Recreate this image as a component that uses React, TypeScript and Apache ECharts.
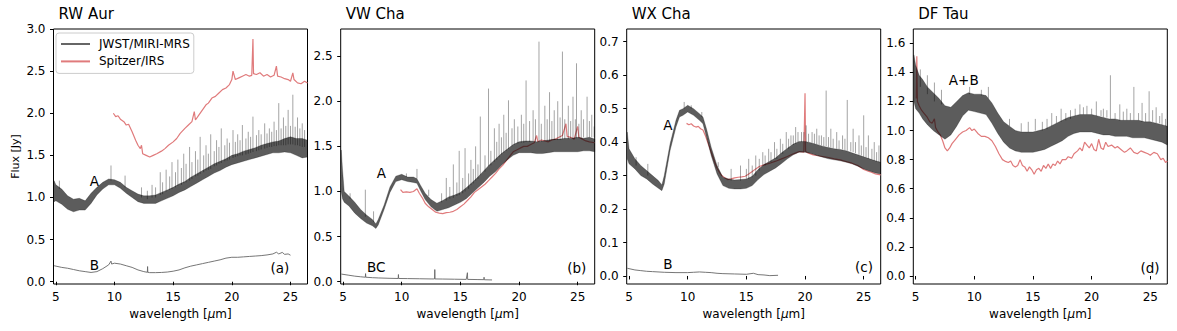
import React, { useEffect, useRef } from "react";
import * as echarts from "echarts";

// ---------------- DATA ----------------
const PANEL_TITLES = ["RW Aur", "VW Cha", "WX Cha", "DF Tau"];
const X_TICKS = [5, 10, 15, 20, 25];
const Y_TICKS = [
  [0, 0.5, 1.0, 1.5, 2.0, 2.5, 3.0],
  [0, 0.5, 1.0, 1.5, 2.0, 2.5],
  [0, 0.1, 0.2, 0.3, 0.4, 0.5, 0.6, 0.7],
  [0, 0.2, 0.4, 0.6, 0.8, 1.0, 1.2, 1.4, 1.6],
];
const Y_RANGES = [
  [-0.027, 3.0],
  [-0.025, 2.8],
  [-0.024, 0.738],
  [-0.055, 1.698],
];
const X_RANGE = [4.8, 26.45];

// JWST/MIRI-MRS main component: [wavelength, lower envelope, upper envelope]
const rwAurBand = [
  [4.85, 0.95, 1.2], [5.0, 0.96, 1.15], [5.5, 0.92, 1.1], [6.0, 0.86, 1.02], [6.5, 0.83, 0.98],
  [7.0, 0.85, 0.99], [7.5, 0.85, 0.96], [8.0, 0.93, 1.05], [8.5, 1.03, 1.12], [9.0, 1.1, 1.18],
  [9.5, 1.15, 1.22], [10.0, 1.15, 1.21], [10.5, 1.11, 1.18], [11.0, 1.05, 1.12], [11.5, 1.0, 1.08],
  [12.0, 0.95, 1.04], [12.5, 0.93, 1.02], [13.0, 0.93, 1.02], [13.5, 0.93, 1.03], [14.0, 0.96, 1.06],
  [14.5, 0.99, 1.09], [15.0, 1.02, 1.12], [15.5, 1.06, 1.16], [16.0, 1.09, 1.19], [16.5, 1.13, 1.24],
  [17.0, 1.17, 1.28], [17.5, 1.21, 1.32], [18.0, 1.25, 1.36], [18.5, 1.29, 1.4], [19.0, 1.32, 1.43],
  [19.5, 1.36, 1.46], [20.0, 1.39, 1.5], [20.5, 1.41, 1.52], [21.0, 1.43, 1.55], [21.5, 1.45, 1.57],
  [22.0, 1.47, 1.59], [22.5, 1.49, 1.62], [23.0, 1.51, 1.64], [23.5, 1.53, 1.66], [24.0, 1.53, 1.67],
  [24.5, 1.54, 1.7], [25.0, 1.53, 1.72], [25.5, 1.5, 1.7], [26.0, 1.47, 1.7], [26.45, 1.48, 1.68],
];
const vwChaBand = [
  [4.85, 1.0, 1.46], [4.95, 0.92, 1.25], [5.1, 0.88, 1.0], [5.5, 0.84, 0.95], [6.0, 0.76, 0.88],
  [6.5, 0.7, 0.8], [7.0, 0.65, 0.74], [7.5, 0.62, 0.69], [7.8, 0.59, 0.64], [8.0, 0.63, 0.69],
  [8.5, 0.8, 0.85], [9.0, 0.99, 1.05], [9.5, 1.11, 1.17], [10.0, 1.13, 1.19], [10.5, 1.11, 1.16],
  [11.0, 1.1, 1.16], [11.3, 1.09, 1.14], [11.6, 1.01, 1.07], [12.0, 0.91, 0.98], [12.5, 0.83, 0.91],
  [13.0, 0.78, 0.87], [13.5, 0.8, 0.9], [14.0, 0.82, 0.94], [14.5, 0.85, 0.96], [15.0, 0.88, 0.99],
  [15.5, 0.92, 1.04], [16.0, 0.98, 1.1], [16.5, 1.04, 1.16], [17.0, 1.1, 1.23], [17.5, 1.17, 1.3],
  [18.0, 1.22, 1.36], [18.5, 1.29, 1.42], [19.0, 1.35, 1.47], [19.5, 1.4, 1.52], [20.0, 1.43, 1.55],
  [20.5, 1.43, 1.56], [21.0, 1.43, 1.56], [21.5, 1.42, 1.55], [22.0, 1.42, 1.56], [22.5, 1.43, 1.57],
  [23.0, 1.44, 1.58], [23.5, 1.44, 1.58], [24.0, 1.44, 1.59], [24.5, 1.44, 1.59], [25.0, 1.44, 1.6],
  [25.5, 1.45, 1.59], [26.0, 1.45, 1.6], [26.45, 1.44, 1.58],
];
const wxChaBand = [
  [4.85, 0.35, 0.43], [5.0, 0.335, 0.38], [5.5, 0.32, 0.35], [6.0, 0.3, 0.33], [6.5, 0.29, 0.315],
  [7.0, 0.275, 0.3], [7.5, 0.262, 0.285], [7.8, 0.255, 0.272], [8.0, 0.275, 0.3], [8.5, 0.375, 0.395],
  [9.0, 0.445, 0.465], [9.3, 0.475, 0.495], [9.6, 0.48, 0.5], [10.0, 0.49, 0.51], [10.5, 0.48, 0.5],
  [11.0, 0.465, 0.485], [11.3, 0.455, 0.475], [11.6, 0.415, 0.44], [12.0, 0.36, 0.385], [12.5, 0.305, 0.33],
  [13.0, 0.27, 0.295], [13.5, 0.262, 0.29], [14.0, 0.26, 0.287], [14.5, 0.26, 0.288], [15.0, 0.262, 0.29],
  [15.5, 0.27, 0.298], [16.0, 0.288, 0.318], [16.5, 0.303, 0.333], [17.0, 0.313, 0.343], [17.5, 0.323, 0.353],
  [18.0, 0.336, 0.368], [18.5, 0.35, 0.382], [19.0, 0.362, 0.394], [19.5, 0.37, 0.402], [20.0, 0.37, 0.402],
  [20.5, 0.366, 0.398], [21.0, 0.36, 0.393], [21.5, 0.355, 0.388], [22.0, 0.35, 0.384], [22.5, 0.347, 0.38],
  [23.0, 0.344, 0.378], [23.5, 0.34, 0.374], [24.0, 0.335, 0.368], [24.5, 0.328, 0.362], [25.0, 0.32, 0.356],
  [25.5, 0.314, 0.35], [26.0, 0.308, 0.344], [26.45, 0.305, 0.34],
];
const dfTauBand = [
  [4.85, 1.2, 1.52], [5.0, 1.15, 1.45], [5.3, 1.12, 1.38], [5.6, 1.08, 1.35], [6.0, 1.04, 1.3],
  [6.5, 1.0, 1.26], [7.0, 0.97, 1.22], [7.5, 0.94, 1.17], [8.0, 0.97, 1.16], [8.5, 1.03, 1.2],
  [9.0, 1.1, 1.24], [9.5, 1.14, 1.26], [10.0, 1.13, 1.25], [10.5, 1.12, 1.25], [11.0, 1.11, 1.24],
  [11.5, 1.05, 1.19], [12.0, 0.98, 1.12], [12.5, 0.92, 1.06], [13.0, 0.88, 1.03], [13.5, 0.86, 1.0],
  [14.0, 0.85, 0.99], [14.5, 0.85, 0.99], [15.0, 0.85, 0.99], [15.5, 0.86, 1.0], [16.0, 0.87, 1.01],
  [16.5, 0.89, 1.03], [17.0, 0.91, 1.05], [17.5, 0.93, 1.07], [18.0, 0.96, 1.09], [18.5, 0.98, 1.1],
  [19.0, 0.99, 1.11], [19.5, 0.99, 1.11], [20.0, 0.99, 1.11], [20.5, 0.98, 1.1], [21.0, 0.97, 1.09],
  [21.5, 0.97, 1.08], [22.0, 0.96, 1.08], [22.5, 0.96, 1.07], [23.0, 0.96, 1.07], [23.5, 0.95, 1.07],
  [24.0, 0.95, 1.07], [24.5, 0.95, 1.06], [25.0, 0.94, 1.06], [25.5, 0.93, 1.05], [26.0, 0.92, 1.04],
  [26.45, 0.9, 1.03],
];

// JWST emission-line spikes: [wavelength, base, peak]
const rwAurLines = [
  [5.3, 1.1, 1.2], [9.7, 1.2, 1.38], [10.9, 1.12, 1.26], [12.3, 1.0, 1.12], [13.2, 1.0, 1.15],
  [13.9, 1.03, 1.3], [14.4, 1.07, 1.33], [14.9, 1.1, 1.42], [15.4, 1.14, 1.45], [15.9, 1.17, 1.52],
  [16.4, 1.2, 1.6], [16.9, 1.25, 1.55], [17.3, 1.28, 1.72], [17.8, 1.32, 1.62], [18.2, 1.34, 1.75],
  [18.7, 1.38, 1.68], [19.1, 1.41, 1.82], [19.6, 1.44, 1.7], [20.1, 1.47, 1.8], [20.5, 1.49, 1.75],
  [20.9, 1.5, 1.86], [21.4, 1.52, 1.78], [21.8, 1.54, 1.96], [22.3, 1.56, 1.8], [22.8, 1.58, 1.88],
  [23.2, 1.6, 1.82], [23.6, 1.61, 1.9], [24.0, 1.62, 2.12], [24.4, 1.62, 1.95], [24.8, 1.63, 2.04],
  [25.2, 1.63, 2.22], [25.6, 1.62, 1.95], [26.0, 1.6, 1.88],
  [12.8, 0.98, 1.08], [13.5, 1.0, 1.12], [14.1, 1.04, 1.18], [14.7, 1.09, 1.25], [15.2, 1.12, 1.3],
  [15.7, 1.15, 1.35], [16.1, 1.18, 1.4], [16.6, 1.22, 1.42], [17.1, 1.26, 1.45], [17.6, 1.3, 1.5],
  [18.0, 1.33, 1.52], [18.5, 1.37, 1.55], [18.9, 1.4, 1.6], [19.4, 1.43, 1.62], [19.8, 1.45, 1.65],
  [20.3, 1.48, 1.66], [20.7, 1.5, 1.68], [21.2, 1.51, 1.7], [21.6, 1.53, 1.72], [22.1, 1.55, 1.74],
  [22.5, 1.57, 1.75], [23.0, 1.59, 1.76], [23.4, 1.6, 1.78], [23.8, 1.61, 1.8], [24.2, 1.62, 1.82],
  [24.6, 1.62, 1.85], [25.0, 1.63, 1.85], [25.4, 1.62, 1.84], [25.8, 1.61, 1.82], [26.2, 1.6, 1.8],
];
const vwChaLines = [
  [5.6, 0.92, 0.98], [6.9, 0.72, 1.02], [7.6, 0.66, 0.78], [10.4, 1.16, 1.2], [11.3, 1.14, 1.25],
  [12.3, 0.95, 1.02], [13.8, 0.9, 1.15], [14.4, 0.93, 1.3], [14.9, 0.96, 1.45], [15.4, 1.0, 1.48],
  [15.9, 1.07, 1.35], [16.3, 1.12, 1.5], [16.7, 1.18, 1.83], [17.4, 1.28, 2.14], [17.9, 1.33, 1.7],
  [18.3, 1.38, 1.75], [18.7, 1.43, 1.85], [19.1, 1.47, 2.01], [19.6, 1.52, 1.8], [20.2, 1.54, 1.85],
  [20.6, 1.55, 2.23], [21.2, 1.55, 1.9], [21.7, 1.55, 2.66], [22.2, 1.56, 1.95], [22.6, 1.56, 2.1],
  [23.0, 1.57, 1.9], [23.3, 1.57, 2.0], [23.7, 1.58, 2.55], [24.2, 1.58, 1.95], [24.6, 1.59, 2.05],
  [24.9, 1.59, 2.42], [25.3, 1.59, 1.9], [25.8, 1.6, 2.05], [26.2, 1.6, 1.85],
  [13.4, 0.88, 0.98], [14.1, 0.92, 1.05], [14.7, 0.95, 1.1], [15.2, 0.98, 1.15], [15.7, 1.03, 1.2],
  [16.1, 1.09, 1.25], [16.5, 1.14, 1.3], [17.1, 1.22, 1.4], [17.6, 1.29, 1.45], [18.1, 1.35, 1.55],
  [18.5, 1.41, 1.6], [18.9, 1.45, 1.65], [19.4, 1.5, 1.7], [19.9, 1.53, 1.72], [20.4, 1.54, 1.75],
  [20.9, 1.55, 1.78], [21.4, 1.55, 1.8], [21.9, 1.55, 1.75], [22.4, 1.56, 1.8], [22.8, 1.57, 1.78],
  [23.5, 1.57, 1.82], [23.9, 1.58, 1.8], [24.4, 1.59, 1.78], [24.8, 1.59, 1.8], [25.1, 1.59, 1.75],
  [25.5, 1.6, 1.8], [26.0, 1.6, 1.78], [26.4, 1.6, 1.72],
];
const wxChaLines = [
  [5.6, 0.33, 0.355], [6.6, 0.3, 0.335], [9.7, 0.5, 0.52], [10.3, 0.5, 0.51], [11.2, 0.475, 0.49],
  [12.6, 0.325, 0.34], [13.7, 0.285, 0.32], [14.5, 0.285, 0.33], [15.2, 0.29, 0.35], [15.8, 0.3, 0.36],
  [16.4, 0.33, 0.37], [16.9, 0.34, 0.38], [17.4, 0.35, 0.4], [17.9, 0.365, 0.41], [18.4, 0.38, 0.43],
  [18.8, 0.39, 0.42], [19.2, 0.395, 0.445], [19.7, 0.4, 0.43], [20.1, 0.4, 0.45], [20.6, 0.398, 0.43],
  [21.0, 0.393, 0.44], [21.4, 0.39, 0.42], [21.8, 0.388, 0.554], [22.2, 0.384, 0.44], [22.7, 0.38, 0.43],
  [23.2, 0.378, 0.42], [23.6, 0.374, 0.526], [24.1, 0.37, 0.44], [24.6, 0.362, 0.42], [25.0, 0.356, 0.48],
  [25.4, 0.35, 0.42], [25.9, 0.344, 0.4], [26.3, 0.34, 0.39],
  [15.0, 0.29, 0.32], [15.5, 0.295, 0.33], [16.1, 0.315, 0.35], [16.6, 0.33, 0.36], [17.1, 0.34, 0.37],
  [17.6, 0.35, 0.38], [18.1, 0.365, 0.395], [18.6, 0.38, 0.41], [19.0, 0.392, 0.42], [19.4, 0.4, 0.43],
  [19.9, 0.4, 0.43], [20.3, 0.4, 0.425], [20.8, 0.395, 0.425], [21.2, 0.392, 0.42], [21.6, 0.388, 0.415],
  [22.0, 0.385, 0.415], [22.4, 0.382, 0.41], [22.9, 0.379, 0.405], [23.4, 0.376, 0.41], [23.9, 0.372, 0.4],
  [24.3, 0.367, 0.4], [24.8, 0.36, 0.39], [25.2, 0.354, 0.385], [25.7, 0.348, 0.38], [26.1, 0.342, 0.37],
];
const dfTauLines = [
  [5.4, 1.3, 1.42], [6.0, 1.25, 1.38], [6.6, 1.2, 1.33], [7.2, 1.18, 1.28], [9.6, 1.25, 1.3],
  [10.6, 1.24, 1.28], [11.2, 1.22, 1.3], [15.2, 1.0, 1.08], [16.6, 1.03, 1.12], [17.4, 1.06, 1.15],
  [18.2, 1.08, 1.14], [19.0, 1.11, 1.18], [19.6, 1.11, 1.17], [20.4, 1.1, 1.2], [21.0, 1.09, 1.15],
  [21.6, 1.08, 1.38], [22.4, 1.07, 1.18], [23.0, 1.07, 1.15], [23.6, 1.07, 1.3], [24.3, 1.06, 1.19],
  [24.9, 1.06, 1.27], [25.5, 1.05, 1.16], [26.0, 1.04, 1.12],
  [13.0, 1.03, 1.08], [14.0, 0.99, 1.05], [14.6, 0.99, 1.06], [15.8, 1.0, 1.06], [16.2, 1.01, 1.08],
  [17.0, 1.05, 1.1], [17.8, 1.07, 1.12], [18.6, 1.1, 1.15], [19.3, 1.11, 1.16], [20.0, 1.11, 1.15],
  [20.8, 1.1, 1.14], [21.3, 1.09, 1.14], [22.0, 1.08, 1.12], [22.7, 1.07, 1.13], [23.3, 1.07, 1.12],
  [24.0, 1.07, 1.12], [24.6, 1.06, 1.12], [25.2, 1.06, 1.14], [25.8, 1.05, 1.1], [26.3, 1.03, 1.08],
];

// Spitzer/IRS spectra: [wavelength, flux]
const rwAurSpitzer = [
  [9.9, 2.0], [10.1, 1.96], [10.3, 1.97], [10.5, 1.93], [10.8, 1.9], [11.0, 1.86], [11.2, 1.87],
  [11.5, 1.78], [11.8, 1.68], [12.0, 1.62], [12.2, 1.58], [12.3, 1.62], [12.4, 1.52], [12.7, 1.5],
  [13.0, 1.48], [13.3, 1.5], [13.6, 1.52], [14.0, 1.55], [14.3, 1.58], [14.6, 1.62], [15.0, 1.66],
  [15.3, 1.7], [15.6, 1.76], [16.0, 1.82], [16.3, 1.86], [16.6, 1.9], [16.8, 2.02], [16.9, 1.92],
  [17.2, 1.98], [17.5, 2.04], [17.8, 2.1], [18.0, 2.12], [18.3, 2.18], [18.6, 2.2], [18.9, 2.24],
  [19.2, 2.28], [19.5, 2.3], [19.8, 2.34], [20.0, 2.4], [20.1, 2.5], [20.3, 2.4], [20.6, 2.42],
  [20.9, 2.44], [21.2, 2.46], [21.5, 2.44], [21.7, 2.45], [21.8, 2.88], [21.85, 2.47], [22.1, 2.46],
  [22.4, 2.48], [22.7, 2.44], [23.0, 2.46], [23.3, 2.43], [23.6, 2.45], [23.8, 2.56], [23.9, 2.44],
  [24.2, 2.43], [24.5, 2.41], [24.8, 2.4], [25.0, 2.38], [25.2, 2.48], [25.3, 2.4], [25.6, 2.36],
  [25.9, 2.35], [26.2, 2.38], [26.45, 2.36],
];
const vwChaSpitzer = [
  [9.9, 1.02], [10.1, 0.99], [10.4, 0.995], [10.7, 0.99], [11.0, 1.0], [11.3, 1.03], [11.5, 0.98],
  [11.8, 0.92], [12.0, 0.87], [12.3, 0.83], [12.6, 0.8], [12.9, 0.77], [13.2, 0.76], [13.5, 0.755],
  [13.8, 0.765], [14.1, 0.77], [14.4, 0.78], [14.7, 0.8], [15.0, 0.83], [15.3, 0.86], [15.6, 0.9],
  [15.9, 0.94], [16.2, 0.99], [16.5, 1.02], [16.8, 1.05], [17.1, 1.08], [17.4, 1.12], [17.7, 1.16],
  [18.0, 1.2], [18.3, 1.25], [18.6, 1.29], [18.9, 1.34], [19.2, 1.39], [19.5, 1.44], [19.8, 1.46],
  [20.1, 1.48], [20.4, 1.5], [20.7, 1.5], [21.0, 1.52], [21.3, 1.54], [21.5, 1.62], [21.6, 1.55],
  [21.9, 1.57], [22.2, 1.56], [22.5, 1.55], [22.8, 1.57], [23.1, 1.58], [23.4, 1.6], [23.7, 1.62],
  [24.0, 1.75], [24.1, 1.61], [24.4, 1.6], [24.7, 1.58], [25.0, 1.72], [25.1, 1.6], [25.4, 1.58],
  [25.7, 1.56], [26.0, 1.55], [26.45, 1.54],
];
const wxChaSpitzer = [
  [9.9, 0.456], [10.1, 0.452], [10.3, 0.455], [10.5, 0.448], [10.7, 0.445], [10.9, 0.447], [11.1, 0.44],
  [11.3, 0.436], [11.5, 0.42], [11.7, 0.4], [11.9, 0.38], [12.1, 0.36], [12.3, 0.34], [12.5, 0.322],
  [12.7, 0.31], [12.9, 0.3], [13.1, 0.295], [13.4, 0.288], [13.7, 0.29], [14.0, 0.293], [14.3, 0.295],
  [14.6, 0.296], [14.9, 0.298], [15.2, 0.305], [15.5, 0.312], [15.8, 0.32], [16.1, 0.327], [16.5, 0.332],
  [17.0, 0.337], [17.5, 0.343], [18.0, 0.35], [18.5, 0.357], [19.0, 0.365], [19.5, 0.372], [19.9, 0.37],
  [20.0, 0.546], [20.05, 0.372], [20.3, 0.367], [20.7, 0.362], [21.0, 0.36], [21.5, 0.357], [22.0, 0.354],
  [22.5, 0.35], [23.0, 0.347], [23.5, 0.342], [24.0, 0.337], [24.5, 0.33], [25.0, 0.318], [25.5, 0.312],
  [26.0, 0.305], [26.45, 0.302],
];
const dfTauSpitzer = [
  [5.05, 1.22], [5.1, 1.51], [5.15, 1.2], [5.3, 1.17], [5.5, 1.14], [5.7, 1.12], [6.0, 1.09], [6.2, 1.06],
  [6.4, 1.05], [6.6, 1.08], [6.7, 1.02], [6.9, 0.99], [7.1, 0.97], [7.3, 0.93], [7.5, 0.88], [7.7, 0.86],
  [7.9, 0.88], [8.1, 0.91], [8.4, 0.94], [8.7, 0.97], [9.0, 0.99], [9.3, 1.0], [9.6, 1.02], [9.8, 1.0],
  [10.0, 1.01], [10.3, 0.98], [10.6, 0.96], [10.9, 0.96], [11.2, 0.95], [11.5, 0.93], [11.8, 0.89],
  [12.1, 0.84], [12.4, 0.8], [12.6, 0.79], [12.9, 0.78], [13.1, 0.79], [13.3, 0.76], [13.5, 0.75],
  [13.7, 0.76], [13.9, 0.8], [14.1, 0.76], [14.3, 0.75], [14.5, 0.72], [14.7, 0.75], [14.9, 0.73],
  [15.1, 0.7], [15.3, 0.73], [15.5, 0.74], [15.7, 0.72], [15.9, 0.76], [16.1, 0.74], [16.3, 0.77],
  [16.5, 0.74], [16.7, 0.77], [16.9, 0.76], [17.1, 0.79], [17.3, 0.77], [17.5, 0.8], [17.8, 0.8],
  [18.0, 0.82], [18.3, 0.81], [18.5, 0.84], [18.8, 0.86], [19.0, 0.88], [19.2, 0.86], [19.4, 0.92],
  [19.6, 0.9], [19.8, 0.88], [20.0, 0.91], [20.2, 0.87], [20.4, 0.86], [20.6, 0.94], [20.8, 0.88],
  [21.0, 0.87], [21.2, 0.92], [21.4, 0.89], [21.7, 0.9], [22.0, 0.88], [22.2, 0.89], [22.5, 0.87],
  [22.8, 0.85], [23.0, 0.86], [23.3, 0.88], [23.6, 0.85], [23.9, 0.84], [24.2, 0.86], [24.5, 0.85],
  [24.8, 0.84], [25.0, 0.83], [25.3, 0.85], [25.6, 0.84], [25.9, 0.8], [26.1, 0.81], [26.3, 0.78],
  [26.45, 0.79],
];

// Faint companions (JWST): [wavelength, flux]
const rwAurB = [
  [4.85, 0.19], [5.5, 0.17], [6.0, 0.16], [6.5, 0.145], [7.0, 0.13], [7.5, 0.12], [8.0, 0.11],
  [8.5, 0.12], [9.0, 0.155], [9.5, 0.2], [9.7, 0.245], [9.75, 0.21], [10.0, 0.22], [10.5, 0.21],
  [11.0, 0.19], [11.5, 0.17], [12.0, 0.14], [12.5, 0.12], [12.8, 0.112], [12.82, 0.18], [12.84, 0.112],
  [13.0, 0.108], [13.5, 0.108], [14.0, 0.11], [14.5, 0.115], [15.0, 0.125], [15.5, 0.14], [16.0, 0.165],
  [16.5, 0.185], [17.0, 0.2], [17.5, 0.215], [18.0, 0.23], [18.5, 0.245], [19.0, 0.26], [19.5, 0.28],
  [20.0, 0.29], [20.5, 0.29], [21.0, 0.295], [21.5, 0.3], [22.0, 0.305], [22.5, 0.31], [23.0, 0.318],
  [23.5, 0.33], [23.8, 0.35], [24.0, 0.33], [24.3, 0.348], [24.5, 0.325], [24.8, 0.33], [25.0, 0.315],
];
const vwChaBC = [
  [4.85, 0.085], [5.5, 0.072], [6.0, 0.062], [6.5, 0.055], [6.9, 0.05], [6.92, 0.09], [6.94, 0.05],
  [7.5, 0.045], [8.0, 0.042], [9.0, 0.038], [9.7, 0.036], [9.72, 0.08], [9.74, 0.036], [10.5, 0.035],
  [11.5, 0.033], [12.5, 0.031], [12.8, 0.031], [12.82, 0.135], [12.84, 0.031], [13.5, 0.03],
  [14.5, 0.028], [15.5, 0.026], [15.6, 0.1], [15.62, 0.026], [16.5, 0.024], [17.0, 0.023],
  [17.02, 0.05], [17.04, 0.022], [17.7, 0.02],
];
const wxChaB = [
  [4.85, 0.023], [5.5, 0.018], [6.0, 0.016], [6.5, 0.014], [7.0, 0.013], [8.0, 0.011], [9.0, 0.01],
  [10.0, 0.01], [10.5, 0.011], [11.0, 0.012], [11.5, 0.011], [12.0, 0.01], [12.5, 0.008], [13.0, 0.007],
  [14.0, 0.006], [15.0, 0.005], [15.6, 0.008], [16.0, 0.004], [16.5, 0.003], [17.0, 0.001], [17.7, 0.002],
];

// Annotations: [wavelength, flux, text]
const rwAurNotes = [[8.28, 1.2, "A"], [8.28, 0.198, "B"], [24.1, 0.16, "(a)"]];
const vwChaNotes = [[8.26, 1.2, "A"], [7.83, 0.166, "BC"], [24.92, 0.15, "(b)"]];
const wxChaNotes = [[8.3, 0.451, "A"], [8.3, 0.035, "B"], [25.03, 0.027, "(c)"]];
const dfTauNotes = [[9.1, 1.346, "A+B"], [24.98, 0.055, "(d)"]];

const BANDS = [rwAurBand, vwChaBand, wxChaBand, dfTauBand];
const LINES = [rwAurLines, vwChaLines, wxChaLines, dfTauLines];
const SPITZER = [rwAurSpitzer, vwChaSpitzer, wxChaSpitzer, dfTauSpitzer];
const COMPANIONS = [rwAurB, vwChaBC, wxChaB, null];
const NOTES = [rwAurNotes, vwChaNotes, wxChaNotes, dfTauNotes];

// ---------------- STYLE / LAYOUT ----------------
const FONT = "DejaVu Sans";
const GRID_LEFTS = [53.5, 340.7, 626.7, 913.3];
const GRID_TOP = 29;
const GRID_W = 254;
const GRID_H = 255;
const JWST_NAME = "JWST/MIRI-MRS";
const SPITZER_NAME = "Spitzer/IRS";
const SPITZER_COLOR = "#e07b7c";

function buildOption() {
  const grid = GRID_LEFTS.map((left) => ({
    left, top: GRID_TOP, width: GRID_W, height: GRID_H,
    show: true, borderColor: "#000", borderWidth: 1, backgroundColor: "transparent",
    containLabel: false, outerBoundsMode: "none",
  }));
  const xAxis = GRID_LEFTS.map((_, i) => ({
    gridIndex: i, type: "value", min: X_RANGE[0], max: X_RANGE[1],
    name: "wavelength [{i|μ}m]", nameLocation: "middle", nameGap: 21,
    nameTextStyle: { fontFamily: FONT, fontSize: 12, color: "#000", rich: { i: { fontFamily: FONT, fontSize: 12, fontStyle: "italic", color: "#000" } } },
    axisLine: { show: false },
    axisTick: { show: true, length: 3.5, customValues: X_TICKS, lineStyle: { color: "#000", width: 1 } },
    axisLabel: { customValues: X_TICKS, fontFamily: FONT, fontSize: 12, color: "#000", margin: 7, formatter: (v) => String(v) },
    splitLine: { show: false },
  }));
  const yAxis = GRID_LEFTS.map((_, i) => ({
    gridIndex: i, type: "value", min: Y_RANGES[i][0], max: Y_RANGES[i][1],
    name: i === 0 ? "Flux [Jy]" : "", nameLocation: "middle", nameGap: 33,
    nameTextStyle: { fontFamily: FONT, fontSize: 11, color: "#000" },
    axisLine: { show: false },
    axisTick: { show: true, length: 3.5, customValues: Y_TICKS[i], lineStyle: { color: "#000", width: 1 } },
    axisLabel: { customValues: Y_TICKS[i], fontFamily: FONT, fontSize: 12, color: "#000", margin: 8, formatter: (v) => Number(v).toFixed(1) },
    splitLine: { show: false },
  }));

  const series: any[] = [];
  GRID_LEFTS.forEach((_, i) => {
    series.push({
      type: "line", name: SPITZER_NAME, xAxisIndex: i, yAxisIndex: i, data: SPITZER[i],
      symbol: "none", silent: true, z: 2, clip: true,
      lineStyle: { color: SPITZER_COLOR, width: 1.2 }, itemStyle: { color: SPITZER_COLOR },
    });
    const band = BANDS[i];
    series.push({
      type: "custom", name: JWST_NAME, xAxisIndex: i, yAxisIndex: i, data: band,
      encode: { x: 0, y: [1, 2] }, silent: true, z: 3, clip: true, itemStyle: { color: "#666" },
      renderItem: (params, api) => {
        if (params.dataIndex !== 0) return null;
        const upper = band.map((d) => api.coord([d[0], d[2]]));
        const lower = band.slice().reverse().map((d) => api.coord([d[0], d[1]]));
        return {
          type: "polygon", shape: { points: upper.concat(lower) },
          style: { fill: "rgba(0,0,0,0.64)", stroke: "rgba(0,0,0,0.3)", lineWidth: 0.8 },
        };
      },
    });
    series.push({
      type: "custom", name: JWST_NAME + " lines", xAxisIndex: i, yAxisIndex: i, data: LINES[i],
      encode: { x: 0, y: [1, 2] }, silent: true, z: 4, clip: true,
      renderItem: (params, api) => {
        const a = api.coord([api.value(0), api.value(1)]);
        const b = api.coord([api.value(0), api.value(2)]);
        return {
          type: "line", shape: { x1: a[0], y1: a[1], x2: b[0], y2: b[1] },
          style: { stroke: "rgba(0,0,0,0.36)", lineWidth: 1 },
        };
      },
    });
    if (COMPANIONS[i]) {
      series.push({
        type: "line", name: "companion" + i, xAxisIndex: i, yAxisIndex: i, data: COMPANIONS[i],
        symbol: "none", silent: true, z: 4,
        lineStyle: { color: "#666", width: 0.9 },
      });
    }
    series.push({
      type: "custom", name: "notes" + i, xAxisIndex: i, yAxisIndex: i, silent: true, z: 6,
      data: NOTES[i].map((n) => [n[0], n[1]]),
      encode: { x: 0, y: 1 },
      renderItem: (params, api) => {
        const p = api.coord([api.value(0), api.value(1)]);
        return {
          type: "text", x: p[0], y: p[1],
          style: {
            text: NOTES[i][params.dataIndex][2], fill: "#000", fontFamily: FONT, fontSize: 13.5,
            align: "center", verticalAlign: "middle",
          },
        };
      },
    });
  });

  return {
    animation: false,
    backgroundColor: "#fff",
    textStyle: { fontFamily: FONT },
    title: PANEL_TITLES.map((t, i) => ({
      text: t, left: GRID_LEFTS[i] + 5, top: 6, padding: 0,
      textStyle: { fontFamily: FONT, fontSize: 15, fontWeight: "normal", color: "#000" },
    })),
    legend: {
      orient: "vertical", left: 56, top: 33, padding: [4, 4, 5, 5], itemGap: 3.4,
      itemWidth: 29, itemHeight: 2, icon: "rect", selectedMode: false,
      backgroundColor: "rgba(255,255,255,0.85)", borderColor: "#cccccc", borderWidth: 1, borderRadius: 3,
      textStyle: { fontFamily: FONT, fontSize: 12, color: "#000", lineHeight: 14, padding: [0, 0, 0, 4] },
      data: [
        { name: JWST_NAME, itemStyle: { color: "#666666" } },
        { name: SPITZER_NAME, itemStyle: { color: SPITZER_COLOR } },
      ],
    },
    grid, xAxis, yAxis, series,
  };
}

export default function App() {
  const ref = useRef<HTMLDivElement>(null);
  useEffect(() => {
    if (!ref.current) return;
    const chart = echarts.init(ref.current, null, { renderer: "svg" });
    chart.setOption(buildOption() as any);
    return () => chart.dispose();
  }, []);
  return (
    <div
      ref={ref}
      style={{ position: "fixed", left: 0, top: 0, width: 1177, height: 331, background: "#fff" }}
    />
  );
}
